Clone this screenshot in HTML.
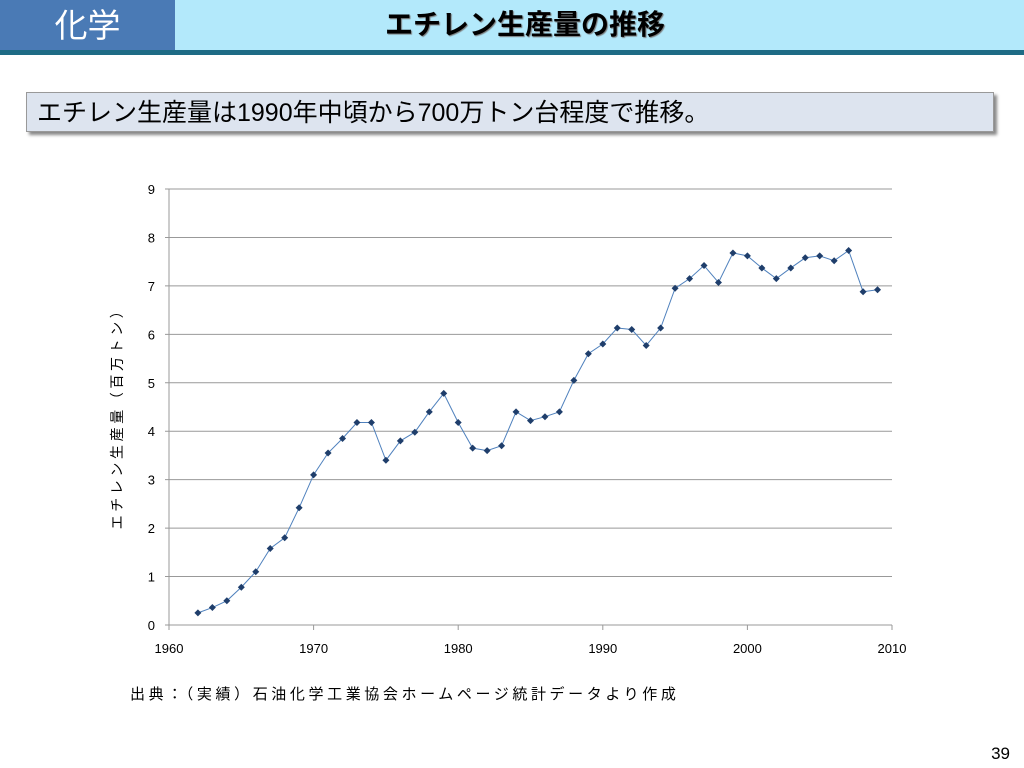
<!DOCTYPE html>
<html><head><meta charset="utf-8">
<style>
body{margin:0;width:1024px;height:768px;background:#fff;position:relative;overflow:hidden;font-family:"Liberation Sans","Noto Sans CJK JP",sans-serif;}
#hdr-left{position:absolute;left:0;top:0;width:175px;height:50px;background:#4a7ab5;color:#fff;font-size:33px;text-align:center;line-height:52px;}
#hdr-right{position:absolute;left:175px;top:0;width:849px;height:50px;background:#b3e9fb;}
#title{position:absolute;left:385px;top:0;height:50px;font-size:28px;font-weight:bold;line-height:50px;color:#000;text-shadow:1px 1px 1px #777;white-space:nowrap;}
#hdr-bar{position:absolute;left:0;top:50px;width:1024px;height:5px;background:#1e6b85;}
#callout{position:absolute;left:26px;top:92px;width:968px;height:40px;background:#dde4ef;border:1px solid #999;box-shadow:3px 3px 3px #888;font-size:25px;line-height:40px;padding-left:10px;box-sizing:border-box;white-space:nowrap;}
#page-num{position:absolute;right:14px;top:744px;font-size:17px;}
#src{position:absolute;left:130px;top:683px;font-size:15px;letter-spacing:3.6px;white-space:nowrap;}
</style></head><body>
<div id="hdr-left">化学</div>
<div id="hdr-right"></div>
<div id="title">エチレン生産量の推移</div>
<div id="hdr-bar"></div>
<div id="callout">エチレン生産量は1990年中頃から700万トン台程度で推移。</div>
<svg id="chart" width="1024" height="768" style="position:absolute;left:0;top:0" font-family="Liberation Sans, Noto Sans CJK JP, sans-serif"></svg>
<div id="src">出典：（実績）石油化学工業協会ホームページ統計データより作成</div>
<div id="page-num">39</div>
<script>
const years=[1962,1963,1964,1965,1966,1967,1968,1969,1970,1971,1972,1973,1974,1975,1976,1977,1978,1979,1980,1981,1982,1983,1984,1985,1986,1987,1988,1989,1990,1991,1992,1993,1994,1995,1996,1997,1998,1999,2000,2001,2002,2003,2004,2005,2006,2007,2008,2009];
const values=[0.25,0.36,0.5,0.78,1.1,1.58,1.8,2.42,3.1,3.55,3.85,4.18,4.18,3.4,3.8,3.98,4.4,4.78,4.18,3.65,3.6,3.7,4.4,4.22,4.3,4.4,5.05,5.6,5.8,6.13,6.1,5.77,6.13,6.95,7.15,7.42,7.07,7.68,7.62,7.37,7.15,7.37,7.58,7.62,7.52,7.73,6.88,6.92];
const yTicks=[0,1,2,3,4,5,6,7,8,9];
const xTicks=[1960,1970,1980,1990,2000,2010];
const X0=169,X1=892,Y0=625,Y1=189;
const xs=v=>X0+(v-1960)/50*(X1-X0);
const ys=v=>Y0-v/9*(Y0-Y1);
const svg=document.getElementById('chart');
const NS='http://www.w3.org/2000/svg';
function mk(t,a){const e=document.createElementNS(NS,t);for(const k in a)e.setAttribute(k,a[k]);svg.appendChild(e);return e;}
yTicks.forEach(t=>{
  const l=mk('line',{x1:X0-4,x2:X1,y1:ys(t),y2:ys(t),stroke:'#999','stroke-width':1});
  
  
  const tx=mk('text',{x:X0-14,y:ys(t)+5,'font-size':13,'text-anchor':'end',fill:'#000'});
  tx.textContent=t;
  
  
});
const ax=mk('line',{x1:X0,x2:X0,y1:Y1,y2:Y0,stroke:'#999','stroke-width':1});


xTicks.forEach(t=>{
  const l=mk('line',{x1:xs(t),x2:xs(t),y1:Y0,y2:Y0+5,stroke:'#999'});
  
  
  const tx=mk('text',{x:xs(t),y:Y0+28,'font-size':13,'text-anchor':'middle',fill:'#000'});
  tx.textContent=t;
  
  
});
const yt=mk('text',{x:0,y:0,'font-size':14,'text-anchor':'middle',fill:'#000','letter-spacing':3.6,transform:'translate(122,415) rotate(-90)'});
yt.textContent='エチレン生産量（百万トン）';


const pl=mk('polyline',{points:years.map((y,i)=>xs(y)+','+ys(values[i])).join(' '),fill:'none',stroke:'#4f81bd','stroke-width':1});


years.forEach((y,i)=>{
  const cx=xs(y),cy=ys(values[i]);
  const p=mk('polygon',{points:`${cx},${cy-3.5} ${cx+3.5},${cy} ${cx},${cy+3.5} ${cx-3.5},${cy}`,fill:'#1f3e6b'});
  
  
});
</script>
</body></html>
